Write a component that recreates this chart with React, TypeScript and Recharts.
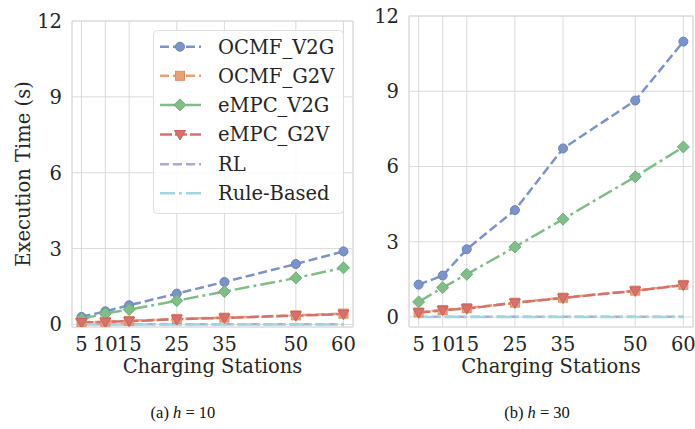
import React from "react";
import { LineChart, Line, XAxis, YAxis, CartesianGrid, Legend, ReferenceArea } from "recharts";

const stations = [5, 10, 15, 25, 35, 50, 60];
const yTicks = [0, 3, 6, 9, 12];

// h = 10
const ocmfV2gH10 = [0.3, 0.52, 0.76, 1.22, 1.68, 2.39, 2.89];
const ocmfG2vH10 = [0.09, 0.11, 0.14, 0.22, 0.27, 0.36, 0.43];
const empcV2gH10 = [0.22, 0.43, 0.59, 0.94, 1.3, 1.84, 2.24];
const empcG2vH10 = [0.08, 0.1, 0.13, 0.21, 0.26, 0.35, 0.41];
const rlH10 = [0.01, 0.01, 0.01, 0.01, 0.01, 0.01, 0.01];
const ruleH10 = [0.0, 0.0, 0.0, 0.0, 0.0, 0.0, 0.0];

// h = 30
const ocmfV2gH30 = [1.29, 1.65, 2.7, 4.26, 6.72, 8.63, 10.98];
const ocmfG2vH30 = [0.18, 0.28, 0.35, 0.57, 0.77, 1.05, 1.28];
const empcV2gH30 = [0.6, 1.17, 1.7, 2.79, 3.9, 5.59, 6.78];
const empcG2vH30 = [0.17, 0.27, 0.33, 0.56, 0.76, 1.04, 1.27];
const rlH30 = [0.01, 0.01, 0.01, 0.01, 0.01, 0.01, 0.01];
const ruleH30 = [0.0, 0.0, 0.0, 0.0, 0.0, 0.0, 0.0];

type Shape = "circle" | "square" | "diamond" | "triangle" | null;

const SERIES: { key: string; color: string; edge: string; dash: string; shape: Shape }[] = [
  { key: "OCMF_V2G", color: "#7b93cb", edge: "#6a82bd", dash: "9 4", shape: "circle" },
  { key: "OCMF_G2V", color: "#e9a074", edge: "#e08e60", dash: "9 4", shape: "square" },
  { key: "eMPC_V2G", color: "#80be88", edge: "#6cb077", dash: "15 4 3 4", shape: "diamond" },
  { key: "eMPC_G2V", color: "#d6716e", edge: "#cc605d", dash: "12 3", shape: "triangle" },
  { key: "RL", color: "#b3a7d5", edge: "#b3a7d5", dash: "9 4", shape: null },
  { key: "Rule-Based", color: "#9fd6e2", edge: "#9fd6e2", dash: "15 4 3 4", shape: null },
];

const buildRows = (cols: number[][]) =>
  stations.map((s, i) => {
    const row: Record<string, number> = { x: s };
    SERIES.forEach((ser, j) => {
      row[ser.key] = cols[j][i];
    });
    return row;
  });

const dataH10 = buildRows([ocmfV2gH10, ocmfG2vH10, empcV2gH10, empcG2vH10, rlH10, ruleH10]);
const dataH30 = buildRows([ocmfV2gH30, ocmfG2vH30, empcV2gH30, empcG2vH30, rlH30, ruleH30]);

const FONT = "'DejaVu Serif', serif";
const FS = 19.5;
const TEXT = "#262626";
const GRID = "#dadada";

function Marker({ cx, cy, shape, color, edge }: { cx: number; cy: number; shape: Shape; color: string; edge: string }) {
  if (shape === "circle") return <circle cx={cx} cy={cy} r={4.5} fill={color} stroke={edge} strokeWidth={1} />;
  if (shape === "square") return <rect x={cx - 4.5} y={cy - 4.5} width={9} height={9} fill={color} stroke={edge} strokeWidth={1} />;
  if (shape === "diamond")
    return (
      <polygon
        points={`${cx},${cy - 6} ${cx + 6},${cy} ${cx},${cy + 6} ${cx - 6},${cy}`}
        fill={color}
        stroke={edge}
        strokeWidth={1}
      />
    );
  if (shape === "triangle")
    return (
      <polygon
        points={`${cx - 5.5},${cy - 4} ${cx + 5.5},${cy - 4} ${cx},${cy + 5.5}`}
        fill={color}
        stroke={edge}
        strokeWidth={1}
      />
    );
  return null;
}

function LegendBox() {
  const rowY = [16.7, 45.8, 74.9, 104.5, 134.3, 163.2];
  return (
    <svg width={192} height={186} style={{ display: "block" }}>
      <rect x={0.5} y={0.5} width={190} height={183} rx={4} fill="rgba(255,255,255,0.85)" stroke="#dedede" />
      {SERIES.map((s, i) => (
        <g key={s.key}>
          <line x1={7} x2={48} y1={rowY[i]} y2={rowY[i]} stroke={s.color} strokeWidth={2.5} strokeDasharray={s.dash} />
          <Marker cx={27} cy={rowY[i]} shape={s.shape} color={s.color} edge={s.edge} />
          <text x={65} y={rowY[i]} dy="0.35em" fontSize={FS} fontFamily={FONT} fill={TEXT}>
            {s.key}
          </text>
        </g>
      ))}
    </svg>
  );
}

interface PanelProps {
  data: Record<string, number>[];
  yMin: number;
  yAxisWidth: number;
  top: number;
  right: number;
  width: number;
  showYLabel: boolean;
  showLegend: boolean;
}

function Panel({ data, yMin, yAxisWidth, top, right, width, showYLabel, showLegend }: PanelProps) {
  return (
    <LineChart width={width} height={429} data={data} margin={{ top, right, left: 0, bottom: 52 }}>
      <ReferenceArea x1={3} x2={62} y1={yMin} y2={12} fill="none" stroke={GRID} strokeWidth={1} />
      <CartesianGrid stroke={GRID} strokeWidth={1} />
      <XAxis
        type="number"
        dataKey="x"
        domain={[3, 62]}
        ticks={stations}
        allowDataOverflow
        height={50}
        axisLine={false}
        tickLine={false}
        tickMargin={4}
        interval={0}
        tick={{ fill: TEXT, fontSize: FS, fontFamily: FONT }}
        label={(p: any) => {
          const vb = p.viewBox;
          return (
            <text x={vb.x + vb.width / 2} y={vb.y + 46} textAnchor="middle" fontSize={FS} fontFamily={FONT} fill={TEXT}>
              Charging Stations
            </text>
          );
        }}
      />
      <YAxis
        type="number"
        domain={[yMin, 12]}
        ticks={yTicks}
        allowDataOverflow
        width={yAxisWidth}
        axisLine={false}
        tickLine={false}
        tickMargin={4}
        interval={0}
        tick={{ fill: TEXT, fontSize: FS, fontFamily: FONT }}
        label={
          showYLabel
            ? (p: any) => {
                const vb = p.viewBox;
                const cy = vb.y + vb.height / 2;
                return (
                  <text
                    x={23}
                    y={cy}
                    transform={`rotate(-90 23 ${cy})`}
                    textAnchor="middle"
                    dominantBaseline="central"
                    fontSize={FS}
                    fontFamily={FONT}
                    fill={TEXT}
                  >
                    Execution Time (s)
                  </text>
                );
              }
            : undefined
        }
      />
      {showLegend && (
        <Legend
          layout="vertical"
          align="center"
          verticalAlign="middle"
          wrapperStyle={{ left: 153, top: 30, width: 192, height: 186 }}
          content={() => <LegendBox />}
        />
      )}
      {SERIES.map((s) => (
        <Line
          key={s.key}
          dataKey={s.key}
          stroke={s.color}
          strokeWidth={2.5}
          strokeDasharray={s.dash}
          isAnimationActive={false}
          dot={
            s.shape
              ? (p: any) => <Marker key={`${s.key}-${p.index}`} cx={p.cx} cy={p.cy} shape={s.shape} color={s.color} edge={s.edge} />
              : false
          }
          activeDot={false}
        />
      ))}
    </LineChart>
  );
}

function Caption({ left, letter, h }: { left: number; letter: string; h: number }) {
  return (
    <div
      style={{
        position: "absolute",
        left,
        top: 403,
        width: 160,
        marginLeft: -80,
        textAlign: "center",
        fontFamily: "'Liberation Serif', serif",
        fontSize: 16.5,
        color: "#111",
        whiteSpace: "pre",
      }}
    >
      {`(${letter}) `}
      <i>h</i>
      {` = ${h}`}
    </div>
  );
}

export default function App() {
  return (
    <div style={{ position: "absolute", left: 0, top: 0, width: 695, height: 429, background: "#fff", overflow: "hidden" }}>
      <div style={{ position: "absolute", left: 0, top: 0 }}>
        <Panel data={dataH10} yMin={-0.1} yAxisWidth={72} top={21} right={7} width={360} showYLabel showLegend />
      </div>
      <div style={{ position: "absolute", left: 345, top: 0 }}>
        <Panel data={dataH30} yMin={-0.4} yAxisWidth={64} top={16} right={2} width={350} showYLabel={false} showLegend={false} />
      </div>
      <Caption left={183} letter="a" h={10} />
      <Caption left={537} letter="b" h={30} />
    </div>
  );
}
